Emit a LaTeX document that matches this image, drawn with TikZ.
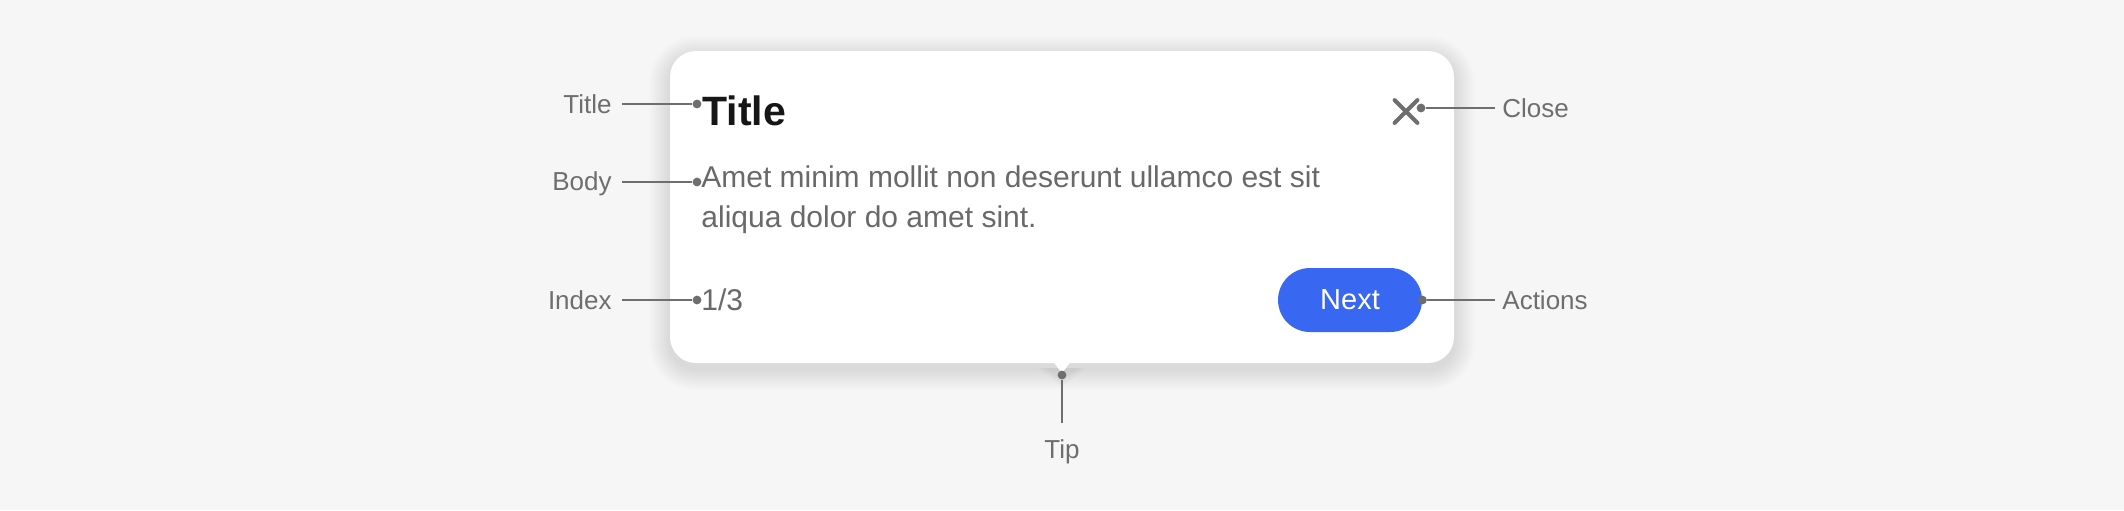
\documentclass[tikz,border=0pt]{standalone}
\usepackage{fontspec}
\setmainfont{Liberation Sans}
\definecolor{bg}{HTML}{F6F6F6}
\definecolor{anno}{HTML}{6E6E6E}
\definecolor{bodytxt}{HTML}{696969}
\definecolor{titletxt}{HTML}{161616}
\definecolor{btnblue}{HTML}{3867F2}
\begin{document}
\begin{tikzpicture}[x=0.5pt,y=-0.5pt,
  lbl/.style={font=\fontsize{13}{15}\selectfont, text=anno, inner sep=0pt},
  dotm/.style={circle, fill=anno, inner sep=0pt, minimum size=4.4pt},
  conn/.style={draw=anno, line width=0.9pt},
  bodyfont/.style={font=\fontsize{15}{20}\selectfont, text=bodytxt, inner sep=0pt},
  titlefont/.style={font=\fontsize{20.5}{24}\selectfont\bfseries, text=titletxt, inner sep=0pt},
  btn/.style={fill=btnblue, text=white, rounded corners=16pt, minimum width=72pt, minimum height=32pt, inner sep=0pt, font=\fontsize{14.5}{17}\selectfont},
  shadowlayer/.style={fill=black, fill opacity=0.0075}]
\useasboundingbox (0,0) rectangle (2124,510);
\fill[bg] (0,0) rectangle (2124,510);
% soft shadow of the card
\foreach \i in {1,...,14} {
  \pgfmathsetmacro{\e}{1.5*\i}
  \pgfmathsetmacro{\r}{13+0.75*\i}
  \path[shadowlayer, rounded corners=\r pt] (670-\e,51-\e+6) rectangle (1454+\e,363+\e+6);
}
\foreach \i in {1,...,7} {
  \pgfmathsetmacro{\e}{1.5*\i}
  \path[shadowlayer] (1048-\e,368) -- (1076+\e,368) -- (1062,378+\e) -- cycle;
}
% card
\fill[white, rounded corners=13pt] (670,51) rectangle (1454,363);
\fill[white] (1048,355) -- (1076,355) -- (1062,373) -- cycle;
% content
\node[titlefont, anchor=base west] (title) at (702,125) {Title};
\node[bodyfont, anchor=base west] (body) at (701,187) {Amet minim mollit non deserunt ullamco est sit};
\node[bodyfont, anchor=base west] (body2) at (701,227) {aliqua dolor do amet sint.};
\node[bodyfont, anchor=base west] (index) at (701,310) {1/3};
\node[minimum size=11pt, inner sep=0pt] (closeic) at (1406,111.5) {};
\draw[anno, line width=2pt, line cap=round] (closeic.north west) -- (closeic.south east) (closeic.north east) -- (closeic.south west);
\node[btn] (next) at (1350,300) {Next};
% annotations
\node[lbl, anchor=base east] (lTitle) at (612,113) {Title};
\node[dotm] (dTitle) at (697,104) {};
\draw[conn, shorten <=5pt] (lTitle.east |- dTitle) -- (dTitle);
\node[lbl, anchor=base east] (lBody) at (612,190) {Body};
\node[dotm] (dBody) at (697,182) {};
\draw[conn, shorten <=5pt] (lBody.east |- dBody) -- (dBody);
\node[lbl, anchor=base east] (lIndex) at (612,309) {Index};
\node[dotm] (dIndex) at (697,300) {};
\draw[conn, shorten <=5pt] (lIndex.east |- dIndex) -- (dIndex);
\node[lbl, anchor=base west] (lClose) at (1502,117) {Close};
\node[dotm] (dClose) at (1421,108) {};
\draw[conn, shorten >=3.5pt] (dClose) -- (lClose.west |- dClose);
\node[lbl, anchor=base west] (lActions) at (1502,309) {Actions};
\node[dotm] (dActions) at (next.east) {};
\draw[conn, shorten >=3.5pt] (dActions) -- (lActions.west |- dActions);
\node[lbl, anchor=base] (lTip) at (1062,458) {Tip};
\node[dotm] (dTip) at (1062,375) {};
\draw[conn, shorten >=8pt] (dTip) -- (lTip.north);
\end{tikzpicture}
\end{document}
